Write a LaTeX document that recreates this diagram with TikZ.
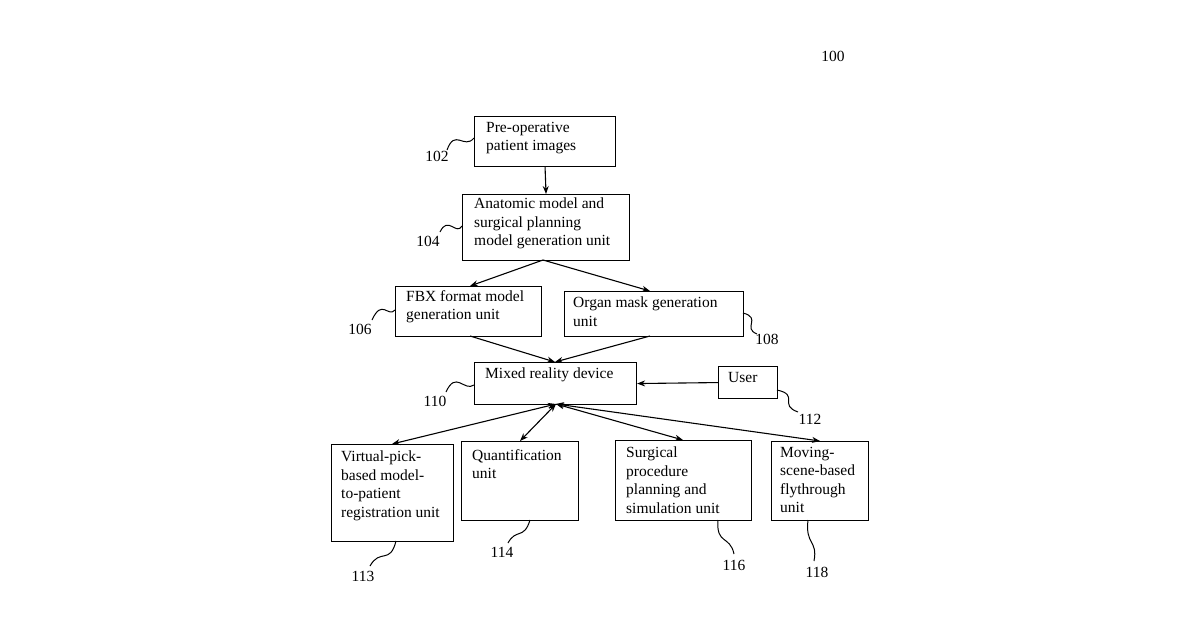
\documentclass[tikz,border=0pt]{standalone}
\usepackage{fontspec}
\setmainfont{Liberation Serif}
\usetikzlibrary{arrows.meta}
\begin{document}
\begin{tikzpicture}[x=1pt,y=-1pt,
  box/.style={draw,line width=1.1pt,inner sep=0pt},
  txt/.style={anchor=north west,align=left,inner sep=0pt,font=\fontsize{15.5}{18.5}\selectfont},
  lbl/.style={inner sep=0pt,font=\fontsize{15.5}{18}\selectfont},
  arr/.style={line width=1.1pt,-{Stealth[length=8pt,width=6pt]}},
  darr/.style={line width=1.1pt,{Stealth[length=8pt,width=6pt]}-{Stealth[length=8pt,width=6pt]}},
  sq/.style={line width=1pt}]
\useasboundingbox (0,0) rectangle (1200,630);
\newcommand{\bx}[5]{\node[box,minimum width=#4,minimum height=#5,anchor=north west] (#1) at (#2,#3) {};}
\bx{b102}{474}{116}{141}{50}
\bx{b104}{462}{194}{167}{66}
\bx{b106}{395}{286}{146}{50}
\bx{b108}{564}{291}{179}{45}
\bx{b110}{474}{362}{162}{42}
\bx{user}{718}{366}{59}{32}
\bx{b113}{331}{444}{122}{97}
\bx{b114}{461}{441}{117}{79}
\bx{b116}{615}{440}{136}{80}
\bx{b118}{771}{441}{97}{79}
\node[txt] at (486,122) {Pre-operative\\patient images};
\node[txt] at (474,198) {Anatomic model and\\surgical planning\\model generation unit};
\node[txt] at (406,290) {FBX format model\\generation unit};
\node[txt] at (573,297) {Organ mask generation\\unit};
\node[txt] at (485,368) {Mixed reality device};
\node[txt] at (728,372) {User};
\node[txt] at (341,451) {Virtual-pick-\\based model-\\to-patient\\registration unit};
\node[txt] at (472,449) {Quantification\\unit};
\node[txt] at (626,447) {Surgical\\procedure\\planning and\\simulation unit};
\node[txt] at (780,447) {Moving-\\scene-based\\flythrough\\unit};
\node[lbl] (l100) at (833,56) {100};
\node[lbl] (l102) at (437,156) {102};
\node[lbl] (l104) at (428,241) {104};
\node[lbl] (l106) at (360,329) {106};
\node[lbl] (l108) at (767,339) {108};
\node[lbl] (l110) at (435,401) {110};
\node[lbl] (l112) at (810,419) {112};
\node[lbl] (l113) at (363,576) {113};
\node[lbl] (l114) at (502,552) {114};
\node[lbl] (l116) at (734,565) {116};
\node[lbl] (l118) at (817,572) {118};
% arrows
\draw[arr] (b102.south) -- (b104.north);
\coordinate (c104) at (543,260);
\draw[arr] (c104) -- (470,286);
\draw[arr] (c104) -- (650,291);
\coordinate (c110) at (555,362);
\draw[arr] (470,336) -- (c110);
\draw[arr] (650,336) -- (c110);
\draw[arr] (user.west) -- (b110.east);
\coordinate (h) at (556,404);
\draw[darr] (h) -- (392,444);
\draw[darr] (h) -- (520,441);
\draw[darr] (h) -- (683,440);
\draw[darr] (h) -- (820,441);
% squiggles
\draw[sq] (447,150) .. controls (455,128) and (464,150) .. (474,138);
\draw[sq] (440,232) .. controls (448,215) and (456,236) .. (462,226);
\draw[sq] (372,320) .. controls (382,298) and (388,318) .. (395,310);
\draw[sq] (743,313) .. controls (762,318) and (742,328) .. (757,334);
\draw[sq] (446,392) .. controls (456,370) and (464,392) .. (474,385);
\draw[sq] (777,390) .. controls (800,395) and (778,405) .. (798,412);
\draw[sq] (396,541) .. controls (390,565) and (380,548) .. (370,566);
\draw[sq] (530,520) .. controls (524,540) and (516,528) .. (508,543);
\draw[sq] (718,520) .. controls (716,545) and (730,535) .. (734,554);
\draw[sq] (808,520) .. controls (805,545) and (818,540) .. (814,561);
\end{tikzpicture}
\end{document}
